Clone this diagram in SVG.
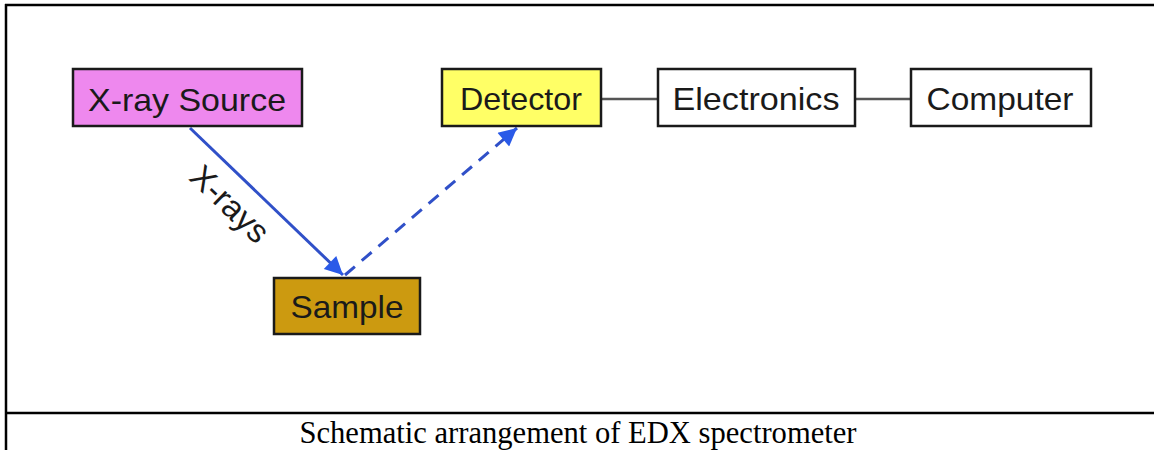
<svg xmlns="http://www.w3.org/2000/svg" width="1154" height="450" viewBox="0 0 1154 450">
<style>
.frame{stroke:#000;stroke-width:2.5;fill:none}
.box{stroke:#1a1a1a;stroke-width:2.5}
.lbl{font-family:"Liberation Sans",Arial,sans-serif;font-size:32px;fill:#1a1a1a;text-anchor:middle}
.link{stroke:#555;stroke-width:2.5;fill:none}
.ray{stroke:#3050c8;stroke-width:3;fill:none}
.cap{font-family:"Liberation Serif","Times New Roman",serif;font-size:32px;fill:#000;text-anchor:middle}
</style>
<defs>
<marker id="ah" viewBox="0 0 10 10" refX="10" refY="5" markerWidth="7" markerHeight="6" orient="auto" markerUnits="strokeWidth">
<path d="M0,0 L10,5 L0,10 z" fill="#2a5ae8"/>
</marker>
</defs>
<rect width="1154" height="450" fill="#fff"/>
<g id="frame">
<line class="frame" x1="6" y1="4" x2="6" y2="450"/>
<line class="frame" x1="5" y1="5" x2="1154" y2="5"/>
<line class="frame" x1="6" y1="413" x2="1154" y2="413"/>
</g>
<g id="connectors">
<line class="link" x1="601" y1="99" x2="658" y2="99"/>
<line class="link" x1="855" y1="99" x2="911" y2="99"/>
<line class="ray" x1="190" y1="128" x2="343" y2="275" marker-end="url(#ah)"/>
<line class="ray" x1="345" y1="275" x2="517" y2="128" stroke-dasharray="13 9" marker-end="url(#ah)"/>
<text class="lbl" x="0" y="0" transform="translate(222,212) rotate(44)" style="font-size:33px">X-rays</text>
</g>
<g id="xray-source">
<rect class="box" x="73" y="69" width="229" height="57" fill="#ee88ee"/>
<text class="lbl" x="187" y="111" textLength="198" lengthAdjust="spacingAndGlyphs">X-ray Source</text>
</g>
<g id="detector">
<rect class="box" x="442" y="69" width="159" height="57" fill="#ffff66"/>
<text class="lbl" x="521" y="110" textLength="122" lengthAdjust="spacingAndGlyphs">Detector</text>
</g>
<g id="electronics">
<rect class="box" x="658" y="69" width="197" height="57" fill="#fff"/>
<text class="lbl" x="756" y="110" textLength="167" lengthAdjust="spacingAndGlyphs">Electronics</text>
</g>
<g id="computer">
<rect class="box" x="911" y="69" width="180" height="57" fill="#fff"/>
<text class="lbl" x="1000" y="110" textLength="147" lengthAdjust="spacingAndGlyphs">Computer</text>
</g>
<g id="sample">
<rect class="box" x="274" y="278" width="146" height="56" fill="#cc9a10"/>
<text class="lbl" x="347" y="318" textLength="113" lengthAdjust="spacingAndGlyphs">Sample</text>
</g>
<g id="caption">
<text class="cap" x="578" y="443" textLength="557" lengthAdjust="spacingAndGlyphs">Schematic arrangement of EDX spectrometer</text>
</g>
</svg>
